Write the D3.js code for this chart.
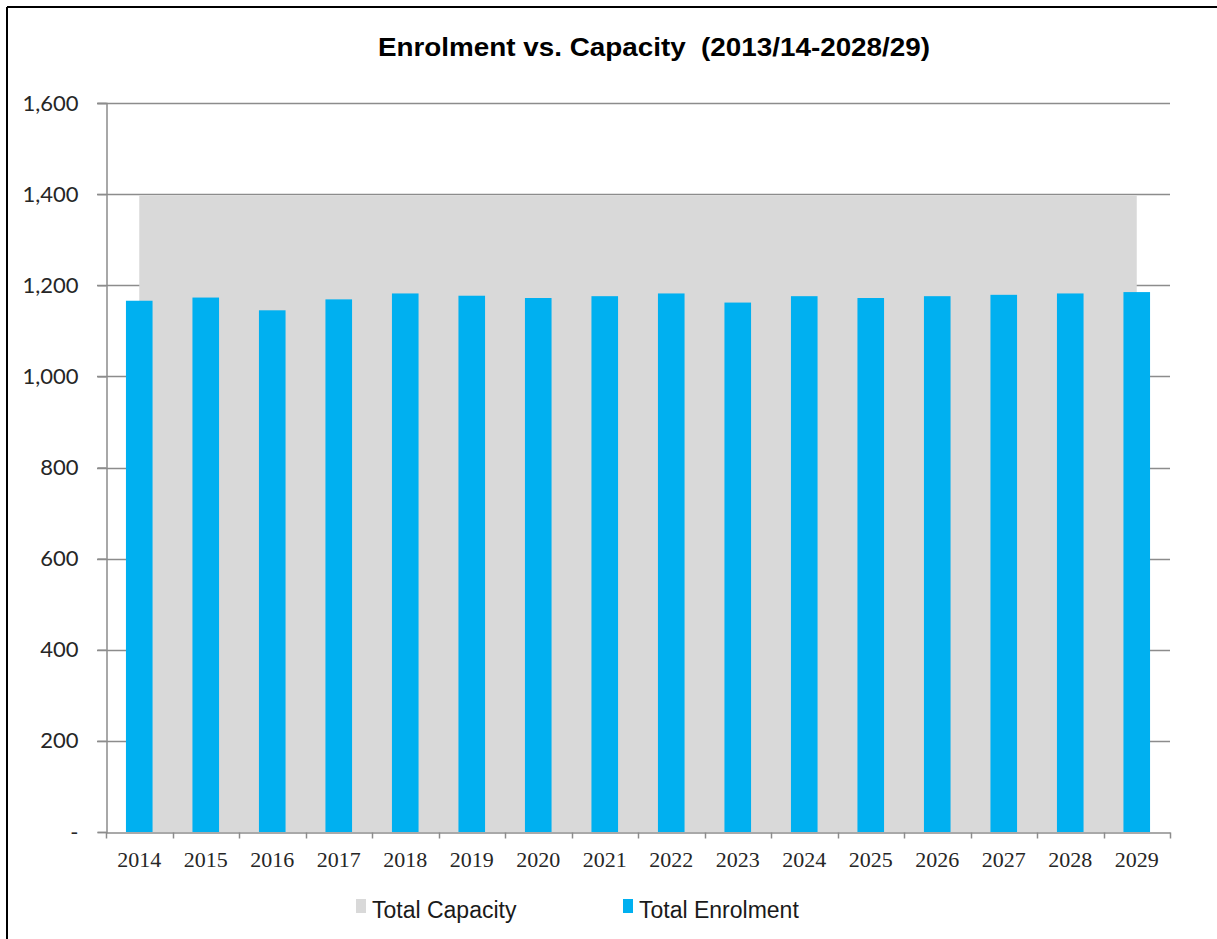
<!DOCTYPE html>
<html>
<head>
<meta charset="utf-8">
<script src="https://cdn.jsdelivr.net/npm/d3@7"></script>
<style>
  html, body { margin: 0; padding: 0; background: #fff; }
  svg { display: block; }
</style>
</head>
<body>
<svg id="chart" width="1217" height="939"></svg>
<script>
const title = "Enrolment vs. Capacity\u00a0 (2013/14-2028/29)";
const years = ["2014","2015","2016","2017","2018","2019","2020","2021","2022","2023","2024","2025","2026","2027","2028","2029"];
const totalEnrolment = [1166, 1173, 1145, 1169, 1182, 1177, 1172, 1176, 1182, 1162, 1176, 1172, 1176, 1179, 1182, 1185];
const totalCapacity = [1397, 1397, 1397, 1397, 1397, 1397, 1397, 1397, 1397, 1397, 1397, 1397, 1397, 1397, 1397, 1397];
const yTicks = [0, 200, 400, 600, 800, 1000, 1200, 1400, 1600];
const yTickLabels = ["-", "200", "400", "600", "800", "1,000", "1,200", "1,400", "1,600"];
const seriesNames = ["Total Capacity", "Total Enrolment"];
const seriesColors = ["#d9d9d9", "#00b0f0"];

const svg = d3.select("#chart");
const plot = { left: 106, right: 1170, top: 103, bottom: 832 };

const x = d3.scaleBand().domain(years).range([plot.left, plot.right]).padding(0);
const y = d3.scaleLinear().domain([0, 1600]).range([plot.bottom, plot.top]);
const barW = x.bandwidth() / 2.5;
const gridColor = "#8c8c8c";

// outer border (top & left)
svg.append("line").attr("x1", 7).attr("x2", 1217).attr("y1", 7).attr("y2", 7)
  .attr("stroke", "#000").attr("stroke-width", 2);
svg.append("line").attr("x1", 7).attr("x2", 7).attr("y1", 7).attr("y2", 939)
  .attr("stroke", "#000").attr("stroke-width", 2);

// title
svg.append("text").attr("x", 654).attr("y", 56).attr("text-anchor", "middle")
  .attr("font-family", "Liberation Sans, Arial, sans-serif").attr("font-weight", "bold")
  .attr("font-size", 26).attr("fill", "#000")
  .attr("textLength", 552).attr("lengthAdjust", "spacingAndGlyphs").text(title);

// gridlines
svg.append("g").selectAll("line").data(yTicks.filter(d => d > 0)).join("line")
  .attr("x1", plot.left - 9).attr("x2", plot.right)
  .attr("y1", d => Math.round(y(d)) + 0.5).attr("y2", d => Math.round(y(d)) + 0.5)
  .attr("stroke", gridColor).attr("stroke-width", 1.5);

// capacity area
const area = d3.area()
  .x((d, i) => x(years[i]) + x.bandwidth() / 2)
  .y0(y(0)).y1(d => y(d));
svg.append("path").datum(totalCapacity).attr("d", area).attr("fill", seriesColors[0]);

// enrolment bars
svg.append("g").selectAll("rect").data(totalEnrolment).join("rect")
  .attr("x", (d, i) => x(years[i]) + (x.bandwidth() - barW) / 2)
  .attr("width", barW)
  .attr("y", d => y(d))
  .attr("height", d => y(0) - y(d))
  .attr("fill", seriesColors[1]);

// y axis
const yAxis = d3.axisLeft(y).tickValues(yTicks).tickSize(9)
  .tickFormat((d, i) => yTickLabels[i]).tickPadding(19);
const gy = svg.append("g").attr("transform", `translate(${plot.left + 0.5},0)`).call(yAxis);
gy.select(".domain").attr("stroke", gridColor).attr("stroke-width", 1.5);
gy.selectAll(".tick line").attr("stroke", gridColor).attr("stroke-width", 1.5);
gy.selectAll(".tick text").attr("font-family", "Lato, Carlito, Calibri, sans-serif")
  .attr("font-size", 22).attr("fill", "#262626");

// x axis
const xAxis = d3.axisBottom(x).tickSize(0).tickPadding(19);
const gx = svg.append("g").attr("transform", `translate(0,${plot.bottom + 0.5})`).call(xAxis);
gx.select(".domain").attr("stroke", gridColor).attr("stroke-width", 1.5);
gx.selectAll(".tick text").attr("font-family", "Liberation Serif, Times New Roman, serif")
  .attr("font-size", 22).attr("fill", "#262626");
// category boundary ticks
const bounds = years.map(d => x(d)).concat([plot.right]);
gx.append("g").selectAll("line").data(bounds).join("line")
  .attr("x1", d => Math.round(d) + 0.5).attr("x2", d => Math.round(d) + 0.5)
  .attr("y1", 0).attr("y2", 6).attr("stroke", gridColor).attr("stroke-width", 1.5);

// legend
const legendX = [356, 623];
const lg = svg.append("g");
seriesNames.forEach((name, i) => {
  lg.append("rect").attr("x", legendX[i]).attr("y", 899).attr("width", 10).attr("height", 14)
    .attr("fill", seriesColors[i]);
  lg.append("text").attr("x", legendX[i] + 16).attr("y", 918)
    .attr("font-family", "Liberation Sans, Arial, sans-serif").attr("font-size", 23)
    .attr("fill", "#1a1a1a").text(name);
});
</script>
</body>
</html>
